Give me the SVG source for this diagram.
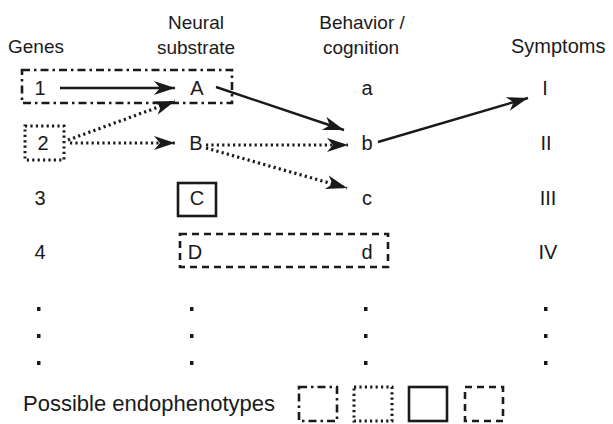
<svg xmlns="http://www.w3.org/2000/svg" width="613" height="424" viewBox="0 0 613 424">
<defs>
<marker id="ah" markerUnits="userSpaceOnUse" markerWidth="24" markerHeight="16" viewBox="-22 -8 24 16" refX="0" refY="0" orient="auto">
<path d="M0,0 L-21,-7 L-15,0 L-21,7 Z" fill="#1a1a1a"/>
</marker>
</defs>
<style>
text{font-family:"Liberation Sans",Arial,sans-serif;font-size:20px;fill:#1a1a1a}
.h{font-size:19px}
.m{text-anchor:middle}
.box{fill:none;stroke:#1a1a1a;stroke-width:2.6}
.dd{stroke-dasharray:8,4,2.5,4}
.dt{stroke-dasharray:2.2,3.2;stroke-width:3}
.ds{stroke-dasharray:7,5}
.c{fill:none;stroke:#1a1a1a;stroke-width:2.4}
.cd{stroke-dasharray:2.2,3.2;stroke-width:3.2}
.leg{font-size:22px}
.dot{fill:#1a1a1a}
</style>
<g id="headers">
<text class="h" x="8" y="53">Genes</text>
<text class="h m" x="196" y="29">Neural</text>
<text class="h m" x="196" y="54">substrate</text>
<text class="h m" x="362" y="29">Behavior /</text>
<text class="h m" x="361" y="54">cognition</text>
<text class="h" x="511" y="53" style="font-size:20px">Symptoms</text>
</g>
<g id="box-1A"><rect class="box dd" x="22" y="70" width="210" height="33"/></g>
<g id="box-2"><rect class="box dt" x="25" y="126" width="39" height="34"/></g>
<g id="box-C"><rect class="box" x="178" y="183" width="38" height="33"/></g>
<g id="box-Dd"><rect class="box ds" x="180" y="234" width="208" height="33"/></g>
<g id="n1"><text class="m" x="40" y="95">1</text></g>
<g id="n2"><text class="m" x="43" y="150">2</text></g>
<g id="n3"><text class="m" x="40" y="205">3</text></g>
<g id="n4"><text class="m" x="40" y="259">4</text></g>
<g id="nA"><text class="m" x="197" y="95">A</text></g>
<g id="nB"><text class="m" x="196" y="150">B</text></g>
<g id="nC"><text class="m" x="197" y="205">C</text></g>
<g id="nD"><text class="m" x="195" y="259">D</text></g>
<g id="na"><text class="m" x="367" y="95">a</text></g>
<g id="nb"><text class="m" x="367" y="150">b</text></g>
<g id="nc"><text class="m" x="367" y="205">c</text></g>
<g id="nd"><text class="m" x="367" y="259">d</text></g>
<g id="nI"><text class="m" x="545" y="95">I</text></g>
<g id="nII"><text class="m" x="546" y="150">II</text></g>
<g id="nIII"><text class="m" x="548" y="205">III</text></g>
<g id="nIV"><text class="m" x="548" y="259">IV</text></g>
<g id="ellipses">
<rect class="dot" x="37" y="307" width="3.5" height="4"/><rect class="dot" x="37" y="334" width="3.5" height="4"/><rect class="dot" x="37" y="361" width="3.5" height="4"/>
<rect class="dot" x="190" y="307" width="3.5" height="4"/><rect class="dot" x="190" y="334" width="3.5" height="4"/><rect class="dot" x="190" y="361" width="3.5" height="4"/>
<rect class="dot" x="364" y="307" width="3.5" height="4"/><rect class="dot" x="364" y="334" width="3.5" height="4"/><rect class="dot" x="364" y="361" width="3.5" height="4"/>
<rect class="dot" x="544" y="307" width="3.5" height="4"/><rect class="dot" x="544" y="334" width="3.5" height="4"/><rect class="dot" x="544" y="361" width="3.5" height="4"/>
</g>
<g id="connectors">
<line class="c" x1="60" y1="88" x2="175" y2="88" marker-end="url(#ah)"/>
<line class="c cd" x1="68" y1="140" x2="175" y2="101" marker-end="url(#ah)"/>
<line class="c cd" x1="70" y1="143" x2="175" y2="143" marker-end="url(#ah)"/>
<line class="c" x1="216" y1="87" x2="344" y2="130" marker-end="url(#ah)"/>
<line class="c cd" x1="206" y1="145" x2="348" y2="145" marker-end="url(#ah)"/>
<line class="c cd" x1="206" y1="148" x2="347" y2="188" marker-end="url(#ah)"/>
<line class="c" x1="378" y1="142" x2="528" y2="98" marker-end="url(#ah)"/>
</g>
<g id="legend">
<text class="leg" x="23" y="411">Possible endophenotypes</text>
<rect class="box dd" x="299" y="387" width="38" height="34"/>
<rect class="box dt" x="354" y="387" width="38" height="34"/>
<rect class="box" x="409" y="387" width="38" height="34"/>
<rect class="box ds" x="465" y="387" width="38" height="34"/>
</g>
</svg>
